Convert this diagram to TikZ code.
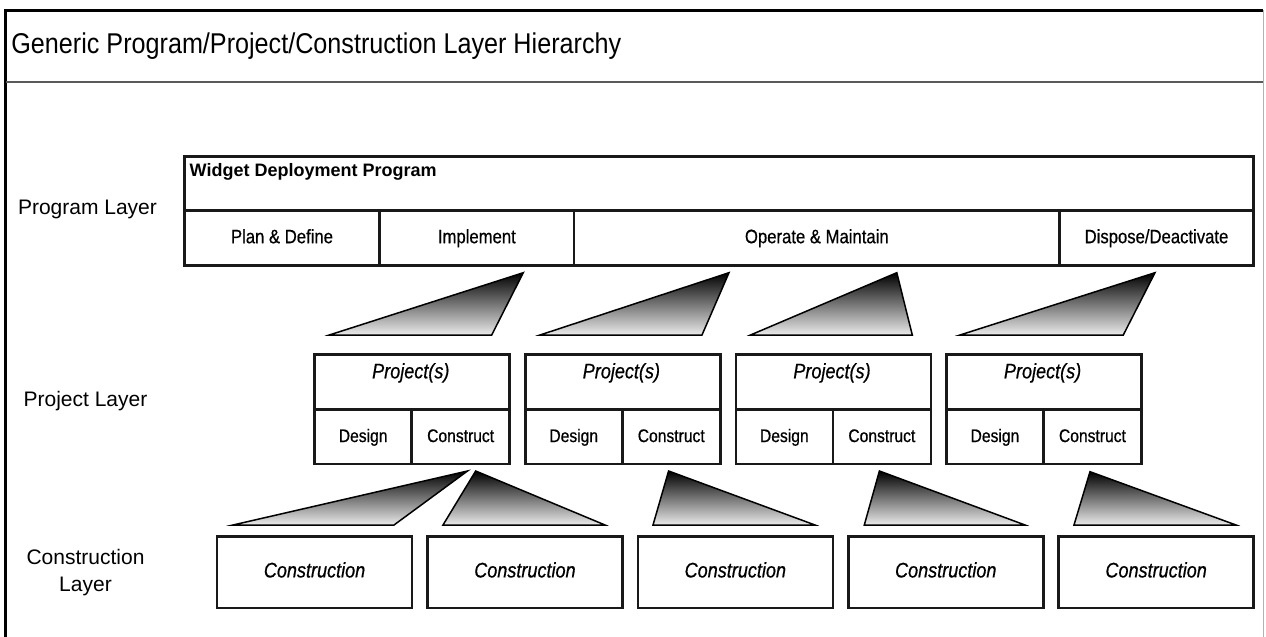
\documentclass[tikz,border=0pt]{standalone}
\usepackage{fontspec}
\setmainfont{Liberation Sans}
\newfontfamily\nar[FakeStretch=0.88]{Liberation Sans}
\newfontfamily\narb[FakeStretch=0.86,FakeBold=0.6]{Liberation Sans}
\begin{document}
\begin{tikzpicture}[x=0.5pt,y=-0.5pt,
  cell/.style={draw=black!90, line width=1.35pt, inner sep=0pt, anchor=north west,
    text height=0.72em, text depth=0.2em},
  pcell/.style={cell, font={\narb\fontsize{9.7}{11}\selectfont}},
  dcell/.style={cell, font={\narb\fontsize{9.1}{11}\selectfont}},
  ccell/.style={cell, font={\narb\itshape\fontsize{10.5}{12}\selectfont}},
  tri/.style={draw=black, line width=0.75pt, top color=black, bottom color=black!8},
  lab/.style={font={\fontsize{10.5}{12}\selectfont}, anchor=base, inner sep=0pt}]
\path[use as bounding box] (0,0) rectangle (1266,637);
\fill[white] (0,0) rectangle (1266,637);
% frame
\draw[line width=1.5pt] (5.7,637) -- (5.7,10) -- (1263,10);
\draw[black!30, line width=0.5pt] (1263,10) -- (1263,637);
\draw[black!65, line width=1pt] (5.7,81.7) -- (1263,81.7);
\node[anchor=base west, inner sep=0pt, font={\nar\fontsize{14.3}{16}\selectfont}] (title) at (11,54)
  {Generic Program/Project/Construction Layer Hierarchy};
% layer labels
\node[lab] (lprog) at (87.5,214) {Program Layer};
\node[lab] (lproj) at (85.5,406.7) {Project Layer};
\node[lab] (lcon1) at (85.5,564) {Construction};
\node[lab] (lcon2) at (85.5,591.7) {Layer};
% program box
\node[cell, minimum width=534.5pt, minimum height=27.15pt] (ph) at (183,155) {};
\node[anchor=base west, inner sep=0pt, font={\bfseries\fontsize{9}{11}\selectfont}] (phl) at (189.3,176.7) {Widget Deployment Program};
\node[pcell, minimum width=97.65pt, minimum height=27.35pt] (pd) at (183,209.3) {Plan \& Define};
\node[pcell, minimum width=97.2pt, minimum height=27.35pt] (im) at (378.3,209.3) {Implement};
\node[pcell, minimum width=242.8pt, minimum height=27.35pt] (om) at (572.7,209.3) {Operate \& Maintain};
\node[pcell, minimum width=96.85pt, minimum height=27.35pt] (dd) at (1058.3,209.3) {Dispose/Deactivate};
% project boxes
\foreach \i in {0,...,3}{
  \pgfmathsetmacro\L{313.3+210.6*\i}
  \pgfmathsetmacro\M{\L+97}
  \node[cell, minimum width=97.5pt, minimum height=27.5pt] (pt\i) at (\L,353.3) {};
  \node[anchor=base, inner sep=0pt, font={\narb\itshape\fontsize{10.5}{12}\selectfont}] (ptl\i) at (\L+97.5,378.3) {Project(s)};
  \node[dcell, minimum width=48.5pt, minimum height=27.2pt] (pdes\i) at (\L,408.3) {Design};
  \node[dcell, minimum width=49pt, minimum height=27.2pt] (pcon\i) at (\M,408.3) {Construct};
}
% construction boxes
\foreach \i in {0,...,4}{
  \pgfmathsetmacro\L{215.7+210.4*\i}
  \node[ccell, minimum width=97.5pt, minimum height=35.85pt] (cb\i) at (\L,535) {Construction};
}
% upper wedges
\shadedraw[tri] (329.3,335) -- (491.7,335) -- (523.3,272.7) -- cycle;
\shadedraw[tri] (540,335) -- (702,335) -- (729,272.7) -- cycle;
\shadedraw[tri] (750.5,335) -- (912.3,335) -- (896.8,272.7) -- cycle;
\shadedraw[tri] (960,335) -- (1123.3,335) -- (1155,272.7) -- cycle;
% lower wedges
\shadedraw[tri] (233,525) -- (394,525) -- (467.5,471) -- cycle;
\shadedraw[tri] (443,525) -- (605,525) -- (475.7,471) -- cycle;
\shadedraw[tri] (653,525) -- (815,525) -- (668.6,471) -- cycle;
\shadedraw[tri] (864.3,525) -- (1025,525) -- (879.4,471) -- cycle;
\shadedraw[tri] (1074,525) -- (1236,525) -- (1090,471.7) -- cycle;
\end{tikzpicture}
\end{document}
